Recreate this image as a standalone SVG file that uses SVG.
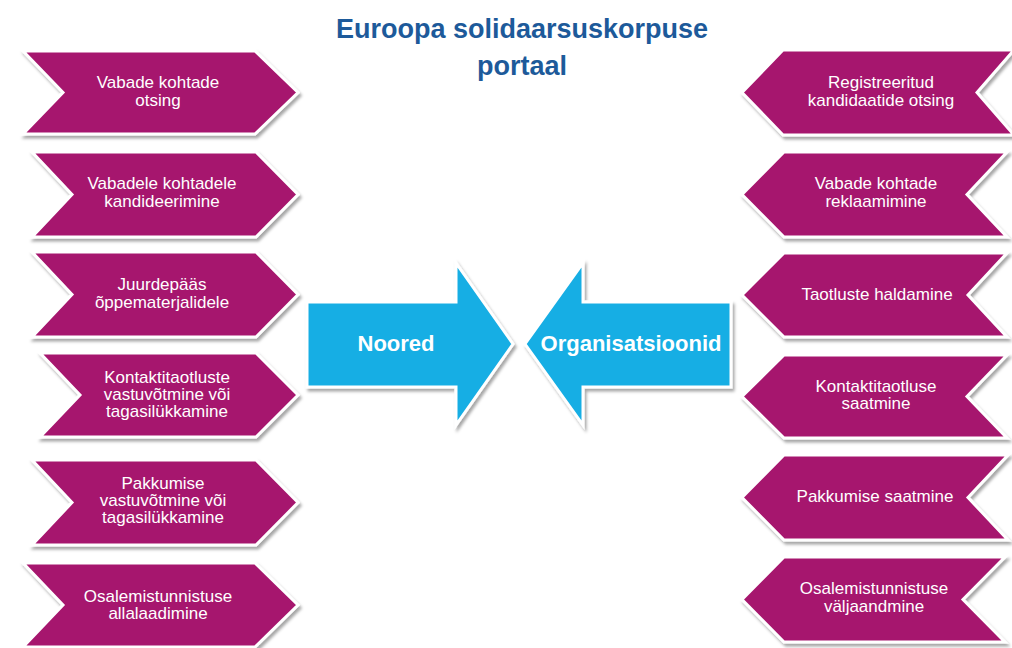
<svg xmlns="http://www.w3.org/2000/svg" width="1012" height="648" viewBox="0 0 1012 648">
<defs>
<filter id="sh" x="-10%" y="-10%" width="125%" height="130%">
<feDropShadow dx="2" dy="3" stdDeviation="1.8" flood-color="#000" flood-opacity="0.35"/>
</filter>
</defs>
<style>
.chev{fill:#A6176E;stroke:#fff;stroke-width:3;stroke-linejoin:miter;filter:url(#sh)}
.arr{fill:#19AEE4;stroke:#fff;stroke-width:3;filter:url(#sh)}
.t{font-family:"Liberation Sans",Arial,sans-serif;font-size:17px;fill:#fff;text-anchor:middle}
.big{font-family:"Liberation Sans",Arial,sans-serif;font-size:22px;font-weight:bold;fill:#fff;text-anchor:middle}
.title{font-family:"Liberation Sans",Arial,sans-serif;font-size:27px;font-weight:bold;fill:#1D5A9A;text-anchor:middle}
</style>
<rect width="1012" height="648" fill="#fff"/>
<g id="title">
<text class="title" x="522" y="38">Euroopa solidaarsuskorpuse</text>
<text class="title" x="522" y="75">portaal</text>
</g>
<g id="left1"><path class="chev" d="M23,51 H255 L298,92.5 L255,134 H23 L63,92.5 Z"/>
<text class="t" x="158" y="88">Vabade kohtade</text><text class="t" x="158" y="106">otsing</text></g>
<g id="left2"><path class="chev" d="M32,152 H256 L298,194.5 L256,237 H32 L72,194.5 Z"/>
<text class="t" x="162" y="189">Vabadele kohtadele</text><text class="t" x="162" y="207">kandideerimine</text></g>
<g id="left3"><path class="chev" d="M32,252 H256 L298,294.5 L256,337 H32 L72,294.5 Z"/>
<text class="t" x="162" y="290">Juurdepääs</text><text class="t" x="162" y="308">õppematerjalidele</text></g>
<g id="left4"><path class="chev" d="M40,353 H256 L298,395 L256,437 H40 L80,395 Z"/>
<text class="t" x="167" y="383">Kontaktitaotluste</text><text class="t" x="167" y="400">vastuvõtmine või</text><text class="t" x="167" y="417">tagasilükkamine</text></g>
<g id="left5"><path class="chev" d="M32,460 H256 L298,502.5 L256,545 H32 L72,502.5 Z"/>
<text class="t" x="163" y="489">Pakkumise</text><text class="t" x="163" y="506">vastuvõtmine või</text><text class="t" x="163" y="523">tagasilükkamine</text></g>
<g id="left6"><path class="chev" d="M23,563 H255 L298,605 L255,647 H23 L63,605 Z"/>
<text class="t" x="158" y="602">Osalemistunnistuse</text><text class="t" x="158" y="619">allalaadimine</text></g>
<g id="right1"><path class="chev" d="M1014,50 H783 L742,92.5 L783,135 H1014 L977,92.5 Z"/>
<text class="t" x="881" y="88">Registreeritud</text><text class="t" x="881" y="106">kandidaatide otsing</text></g>
<g id="right2"><path class="chev" d="M1007,152 H784 L742,194.5 L784,237 H1007 L967,194.5 Z"/>
<text class="t" x="876" y="189">Vabade kohtade</text><text class="t" x="876" y="207">reklaamimine</text></g>
<g id="right3"><path class="chev" d="M1007,253 H784 L742,295 L784,337 H1007 L968,295 Z"/>
<text class="t" x="877" y="300">Taotluste haldamine</text></g>
<g id="right4"><path class="chev" d="M1007,355 H784 L742,396.5 L784,438 H1007 L967,396.5 Z"/>
<text class="t" x="876" y="392">Kontaktitaotluse</text><text class="t" x="876" y="409">saatmine</text></g>
<g id="right5"><path class="chev" d="M1008,455 H784 L742,497.5 L784,540 H1008 L968,497.5 Z"/>
<text class="t" x="875" y="502">Pakkumise saatmine</text></g>
<g id="right6"><path class="chev" d="M1005,557 H784 L742,599.5 L784,642 H1005 L963,599.5 Z"/>
<text class="t" x="874" y="594">Osalemistunnistuse</text><text class="t" x="874" y="612">väljaandmine</text></g>
<g id="noored"><path class="arr" d="M307,302 H456 V263 L513,344 L456,425 V387 H307 Z"/>
<text class="big" x="396" y="351">Noored</text></g>
<g id="organisatsioonid"><path class="arr" d="M731,302 H583 V263 L525,344 L583,425 V387 H731 Z"/>
<text class="big" x="631" y="351">Organisatsioonid</text></g>
<g id="connectors"></g>
</svg>
